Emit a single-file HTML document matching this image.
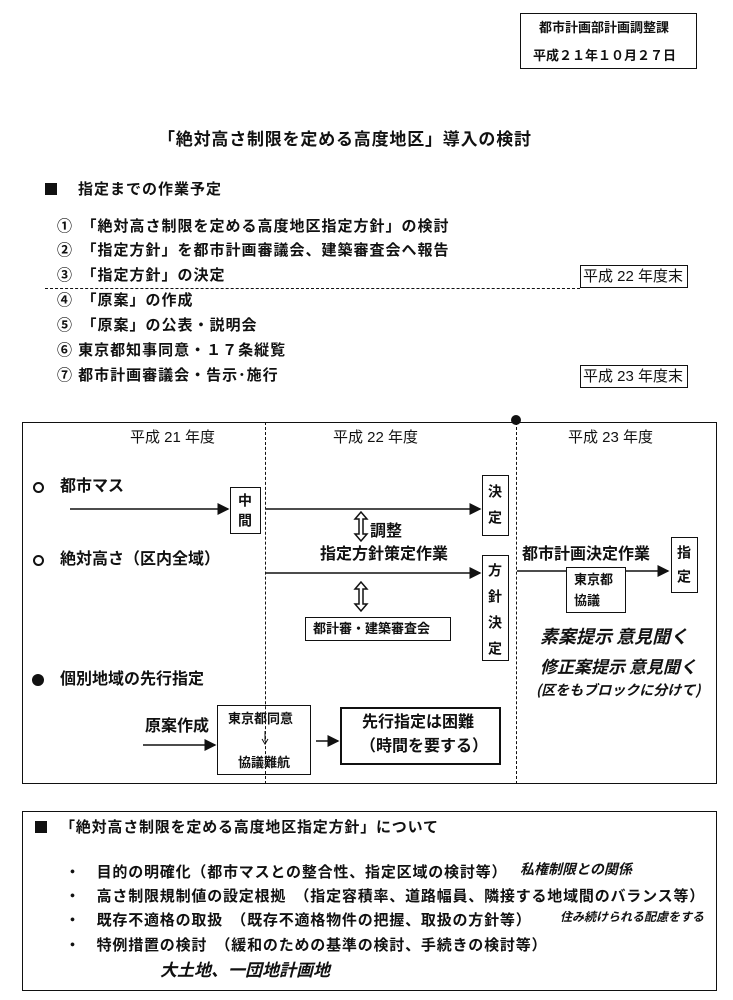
<!DOCTYPE html>
<html><head><meta charset="utf-8"><style>
body{margin:0;background:#fff;}
#p{position:relative;width:733px;height:1000px;overflow:hidden;font-family:"Liberation Sans","Noto Sans CJK JP",sans-serif;color:#111;}
.t{position:absolute;white-space:nowrap;line-height:1;font-size:15px;font-weight:bold;}
.ls{letter-spacing:1px;}
.lb{letter-spacing:0.8px;}
.b{position:absolute;border:1.5px solid #111;box-sizing:border-box;}
.v{position:absolute;writing-mode:vertical-rl;font-size:14px;line-height:1;letter-spacing:6px;font-weight:bold;}
.hw{font-family:"WenQuanYi Zen Hei","Noto Sans CJK JP",sans-serif;font-style:italic;font-size:15px;}
.c{position:absolute;width:11px;height:11px;border:2px solid #111;border-radius:50%;box-sizing:border-box;}
.sq{position:absolute;width:12px;height:12px;background:#111;}
</style></head><body><div id="p">
<div class="b" style="left:520px;top:13px;width:177px;height:56px;"></div>
<div class="t" style="left:539px;top:21px;font-size:13px;">都市計画部計画調整課</div>
<div class="t" style="left:533px;top:49px;font-size:13px;">平成２１年１０月２７日</div>

<div class="t" style="left:158px;top:131px;font-size:17px;letter-spacing:0.8px;">「絶対高さ制限を定める高度地区」導入の検討</div>
<div class="sq" style="left:45px;top:183px;"></div>
<div class="t ls" style="left:78px;top:182px;">指定までの作業予定</div>
<div class="t ls" style="left:57px;top:219px;">①　「絶対高さ制限を定める高度地区指定方針」の検討</div>
<div class="t ls" style="left:57px;top:243px;">②　「指定方針」を都市計画審議会、建築審査会へ報告</div>
<div class="t ls" style="left:57px;top:268px;">③　「指定方針」の決定</div>
<div style="position:absolute;left:45px;top:288px;width:535px;border-top:1.5px dashed #111;"></div>
<div class="t ls" style="left:57px;top:293px;">④　「原案」の作成</div>
<div class="t ls" style="left:57px;top:318px;">⑤　「原案」の公表・説明会</div>
<div class="t ls" style="left:57px;top:343px;">⑥ 東京都知事同意・１７条縦覧</div>
<div class="t ls" style="left:57px;top:368px;">⑦ 都市計画審議会・告示･施行</div>
<div class="b" style="left:580px;top:265px;width:108px;height:23px;"></div>
<div class="t" style="left:583px;top:269px;font-weight:normal;">平成 22 年度末</div>
<div class="b" style="left:580px;top:365px;width:108px;height:23px;"></div>
<div class="t" style="left:583px;top:369px;font-weight:normal;">平成 23 年度末</div>

<div class="b" style="left:22px;top:422px;width:695px;height:362px;"></div>
<div style="position:absolute;left:265px;top:422px;height:362px;border-left:1.5px dashed #111;"></div>
<div style="position:absolute;left:516px;top:422px;height:362px;border-left:1.5px dashed #111;"></div>
<div style="position:absolute;left:511px;top:415px;width:10px;height:10px;border-radius:50%;background:#111;"></div>
<div class="t" style="left:130px;top:430px;font-weight:normal;">平成 21 年度</div>
<div class="t" style="left:333px;top:430px;font-weight:normal;">平成 22 年度</div>
<div class="t" style="left:568px;top:430px;font-weight:normal;">平成 23 年度</div>

<div class="c" style="left:33px;top:482px;"></div>
<div class="t" style="left:60px;top:479px;font-size:16px;">都市マス</div>
<svg style="position:absolute;left:0;top:0" width="733" height="1000">
<defs><marker id="a" markerWidth="8" markerHeight="8" refX="7" refY="4" orient="auto"><path d="M0,0 L8,4 L0,8 z" fill="#111"/></marker></defs>
<g stroke="#111" stroke-width="1.5" fill="none">
<line x1="70" y1="509" x2="228" y2="509" marker-end="url(#a)"/>
<line x1="266" y1="509" x2="480" y2="509" marker-end="url(#a)"/>
<line x1="266" y1="573" x2="480" y2="573" marker-end="url(#a)"/>
<line x1="517" y1="571" x2="668" y2="571" marker-end="url(#a)"/>
<line x1="143" y1="745" x2="215" y2="745" marker-end="url(#a)"/>
<line x1="316" y1="741" x2="338" y2="741" marker-end="url(#a)"/>
<path d="M361,512 L355,519 L359,519 L359,534 L355,534 L361,541 L367,534 L363,534 L363,519 L367,519 Z"/>
<path d="M361,582 L355,589 L359,589 L359,604 L355,604 L361,611 L367,604 L363,604 L363,589 L367,589 Z"/>
<line x1="265" y1="731" x2="265" y2="741" stroke-width="1"/>
<path d="M262,739 L265,744 L268,739" stroke-width="1"/>
</g></svg>
<div class="b" style="left:230px;top:487px;width:31px;height:47px;"></div>
<div class="v" style="left:238px;top:493px;">中間</div>
<div class="b" style="left:482px;top:475px;width:27px;height:61px;"></div>
<div class="v" style="left:488px;top:484px;letter-spacing:12px;">決定</div>
<div class="t" style="left:370px;top:524px;font-size:16px;">調整</div>
<div class="c" style="left:33px;top:555px;"></div>
<div class="t" style="left:60px;top:552px;font-size:16px;">絶対高さ（区内全域）</div>
<div class="t" style="left:320px;top:547px;font-size:16px;">指定方針策定作業</div>
<div class="b" style="left:482px;top:555px;width:27px;height:106px;"></div>
<div class="v" style="left:488px;top:563px;letter-spacing:12px;">方針決定</div>
<div class="b" style="left:305px;top:617px;width:146px;height:24px;"></div>
<div class="t" style="left:313px;top:622px;font-size:13px;">都計審・建築審査会</div>
<div class="t" style="left:522px;top:547px;font-size:16px;">都市計画決定作業</div>
<div class="b" style="left:566px;top:567px;width:60px;height:46px;background:#fff;"></div>
<div class="t" style="left:574px;top:573px;font-size:13px;">東京都</div>
<div class="t" style="left:574px;top:594px;font-size:13px;">協議</div>
<div class="b" style="left:671px;top:537px;width:27px;height:56px;"></div>
<div class="v" style="left:677px;top:545px;letter-spacing:10px;">指定</div>
<div class="t hw" style="left:540px;top:627px;font-size:18px;">素案提示 意見聞く</div>
<div class="t hw" style="left:540px;top:657px;font-size:17px;">修正案提示 意見聞く</div>
<div class="t hw" style="left:536px;top:683px;font-size:14px;">(区をもブロックに分けて)</div>
<div style="position:absolute;left:32px;top:674px;width:12px;height:12px;border-radius:50%;background:#111;"></div>
<div class="t" style="left:60px;top:672px;font-size:16px;">個別地域の先行指定</div>
<div class="t" style="left:145px;top:719px;font-size:16px;">原案作成</div>
<div class="b" style="left:217px;top:705px;width:94px;height:70px;"></div>
<div class="t" style="left:228px;top:712px;font-size:13px;">東京都同意</div>
<div class="t" style="left:238px;top:756px;font-size:13px;">協議難航</div>
<div class="b" style="left:340px;top:707px;width:161px;height:58px;border-width:2px;"></div>
<div class="t" style="left:362px;top:715px;font-size:16px;">先行指定は困難</div>
<div class="t" style="left:360px;top:739px;font-size:16px;">（時間を要する）</div>

<div class="b" style="left:22px;top:811px;width:695px;height:180px;"></div>
<div class="sq" style="left:35px;top:821px;"></div>
<div class="t lb" style="left:60px;top:820px;">「絶対高さ制限を定める高度地区指定方針」について</div>
<div class="t lb" style="left:65px;top:865px;">・　目的の明確化（都市マスとの整合性、指定区域の検討等）</div>
<div class="t hw" style="left:520px;top:862px;font-size:14px;">私権制限との関係</div>
<div class="t lb" style="left:65px;top:889px;">・　高さ制限規制値の設定根拠　（指定容積率、道路幅員、隣接する地域間のバランス等）</div>
<div class="t lb" style="left:65px;top:913px;">・　既存不適格の取扱　（既存不適格物件の把握、取扱の方針等）</div>
<div class="t hw" style="left:560px;top:911px;font-size:12px;">住み続けられる配慮をする</div>
<div class="t lb" style="left:65px;top:938px;">・　特例措置の検討　（緩和のための基準の検討、手続きの検討等）</div>
<div class="t hw" style="left:160px;top:960px;font-size:17px;">大土地、一団地計画地</div>
</div></body></html>
